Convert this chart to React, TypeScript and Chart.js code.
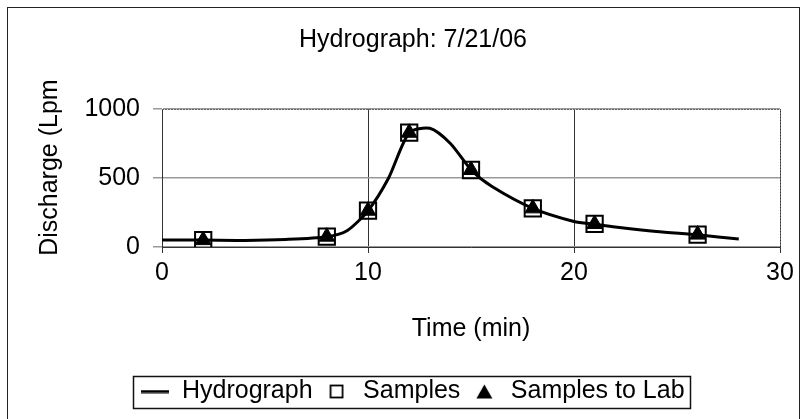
import React, { useEffect, useRef } from "react";
import Chart from "chart.js/auto";

const hydroTime = [0, 2, 4, 6, 8, 9, 10, 11, 12, 13, 14, 15, 16, 18, 20, 21, 22, 24, 26, 28];
const hydroFlow = [50, 50, 48, 55, 75, 120, 263, 500, 828, 860, 750, 560, 440, 280, 185, 165, 145, 112, 88, 58];

const sampleTime = [2, 8, 10, 12, 15, 18, 21, 26];
const sampleFlow = [50, 75, 263, 828, 558, 280, 167, 90];

const labTime = [2, 8, 10, 12, 15, 18, 21, 26];
const labFlow = [50, 75, 263, 828, 558, 280, 167, 90];

const xTicks = [0, 10, 20, 30];
const yTicks = [0, 500, 1000];

const FONT = "'Liberation Sans', Arial, sans-serif";
const FS = 25;

function makeIcon(kind: string): HTMLCanvasElement {
  const c = document.createElement("canvas");
  const ctx = c.getContext("2d")!;
  if (kind === "line") {
    c.width = 28;
    c.height = 4;
    ctx.fillStyle = "#000";
    ctx.fillRect(0, 0.5, 28, 3);
  } else if (kind === "rect") {
    c.width = 15;
    c.height = 15;
    ctx.strokeStyle = "#000";
    ctx.lineWidth = 1.8;
    ctx.strokeRect(1.5, 1.5, 12, 12);
  } else {
    c.width = 17;
    c.height = 15;
    ctx.fillStyle = "#000";
    ctx.beginPath();
    ctx.moveTo(8.5, 0.5);
    ctx.lineTo(16.5, 14.5);
    ctx.lineTo(0.5, 14.5);
    ctx.closePath();
    ctx.fill();
  }
  return c;
}

const framePlugin = {
  id: "frame",
  afterDraw(chart: any) {
    const ctx = chart.ctx;
    const { left, right, top, bottom } = chart.chartArea;
    ctx.save();
    ctx.strokeStyle = "#222";
    ctx.lineWidth = 1;
    ctx.strokeRect(7.5, 7.5, 792, 430);
    ctx.strokeStyle = "#666";
    ctx.setLineDash([2, 1]);
    ctx.beginPath();
    ctx.moveTo(left, top + 0.5);
    ctx.lineTo(right + 0.5, top + 0.5);
    ctx.lineTo(right + 0.5, bottom);
    ctx.stroke();
    ctx.setLineDash([]);
    const lg = chart.legend;
    if (lg && lg.legendHitBoxes && lg.legendHitBoxes.length) {
      const hb = lg.legendHitBoxes;
      let x0 = Infinity, x1 = -Infinity, y0 = Infinity, y1 = -Infinity;
      hb.forEach((b: any) => {
        x0 = Math.min(x0, b.left);
        x1 = Math.max(x1, b.left + b.width);
        y0 = Math.min(y0, b.top);
        y1 = Math.max(y1, b.top + b.height);
      });
      const cy = (y0 + y1) / 2;
      ctx.strokeStyle = "#111";
      ctx.lineWidth = 1.5;
      ctx.strokeRect(Math.round(x0 - 8) + 0.5, Math.round(cy - 16) + 0.5, Math.round(x1 - x0 + 14), 32);
    }
    ctx.restore();
  },
};

export default function App() {
  const ref = useRef<HTMLCanvasElement | null>(null);
  useEffect(() => {
    if (!ref.current) return;
    const icons = [makeIcon("line"), makeIcon("rect"), makeIcon("tri")];
    const chart = new Chart(ref.current, {
      type: "scatter",
      data: {
        datasets: [
          {
            label: "Hydrograph",
            data: hydroTime.map((t, i) => ({ x: t, y: hydroFlow[i] })),
            showLine: true,
            borderColor: "#000",
            backgroundColor: "#000",
            borderWidth: 3,
            pointRadius: 0,
            pointStyle: "line",
            tension: 0.25,
            order: 2,
          },
          {
            label: "Samples",
            data: sampleTime.map((t, i) => ({ x: t, y: sampleFlow[i] })),
            borderColor: "#000",
            backgroundColor: "rgba(255,255,255,0)",
            borderWidth: 2,
            pointStyle: "rect",
            pointRadius: 11.5,
            order: 3,
          },
          {
            label: "Samples to Lab",
            data: labTime.map((t, i) => ({ x: t, y: labFlow[i] })),
            borderColor: "#000",
            backgroundColor: "#000",
            borderWidth: 1,
            pointStyle: "triangle",
            pointRadius: 9,
            order: 1,
          },
        ],
      },
      options: {
        animation: false,
        responsive: false,
        layout: { padding: { left: 46, right: 23, top: 0, bottom: 5 } },
        plugins: {
          title: {
            display: true,
            text: "Hydrograph: 7/21/06",
            color: "#000",
            font: { family: FONT, size: FS, weight: "normal" },
            padding: { top: 25, bottom: 54 },
          },
          legend: {
            position: "bottom",
            labels: {
              color: "#000",
              font: { family: FONT, size: FS },
              usePointStyle: true,
              pointStyleWidth: 28,
              boxHeight: 11,
              padding: 10,
              sort: (a: any, b: any) => a.datasetIndex - b.datasetIndex,
              generateLabels: (ch: any) => {
                const items = (Chart as any).defaults.plugins.legend.labels.generateLabels(ch);
                items.forEach((it: any) => {
                  it.pointStyle = icons[it.datasetIndex];
                });
                return items;
              },
            },
          },
          tooltip: { enabled: false },
        },
        scales: {
          x: {
            type: "linear",
            min: 0,
            max: 30,
            afterBuildTicks: (s: any) => {
              s.ticks = xTicks.map((v) => ({ value: v }));
            },
            afterFit: (s: any) => {
              s.height = 122;
            },
            ticks: {
              color: "#000",
              font: { family: FONT, size: FS },
              padding: 5,
              callback: (v: any) => String(v),
            },
            grid: { color: "#333", lineWidth: 1, tickLength: 6, drawTicks: true },
            border: { color: "#333", width: 1 },
            title: {
              display: true,
              text: "Time (min)",
              color: "#000",
              font: { family: FONT, size: FS },
              padding: { top: 0, bottom: 25 },
            },
          },
          y: {
            type: "linear",
            min: 0,
            max: 1000,
            afterBuildTicks: (s: any) => {
              s.ticks = yTicks.map((v) => ({ value: v }));
            },
            afterFit: (s: any) => {
              s.width = 116;
            },
            ticks: {
              color: "#000",
              font: { family: FONT, size: FS },
              padding: 13,
              callback: (v: any) => String(v),
            },
            grid: { color: "#999", lineWidth: 1.5, tickLength: 9, drawTicks: true },
            border: { color: "#333", width: 1 },
            title: {
              display: true,
              text: "   Discharge (Lpm",
              color: "#000",
              font: { family: FONT, size: FS },
              padding: { top: -11, bottom: 0 },
            },
          },
        },
      },
      plugins: [framePlugin],
    } as any);
    return () => chart.destroy();
  }, []);
  return (
    <div style={{ position: "absolute", left: 0, top: 0, width: 803, height: 419, background: "#fff" }}>
      <canvas ref={ref} width={803} height={419} />
    </div>
  );
}
